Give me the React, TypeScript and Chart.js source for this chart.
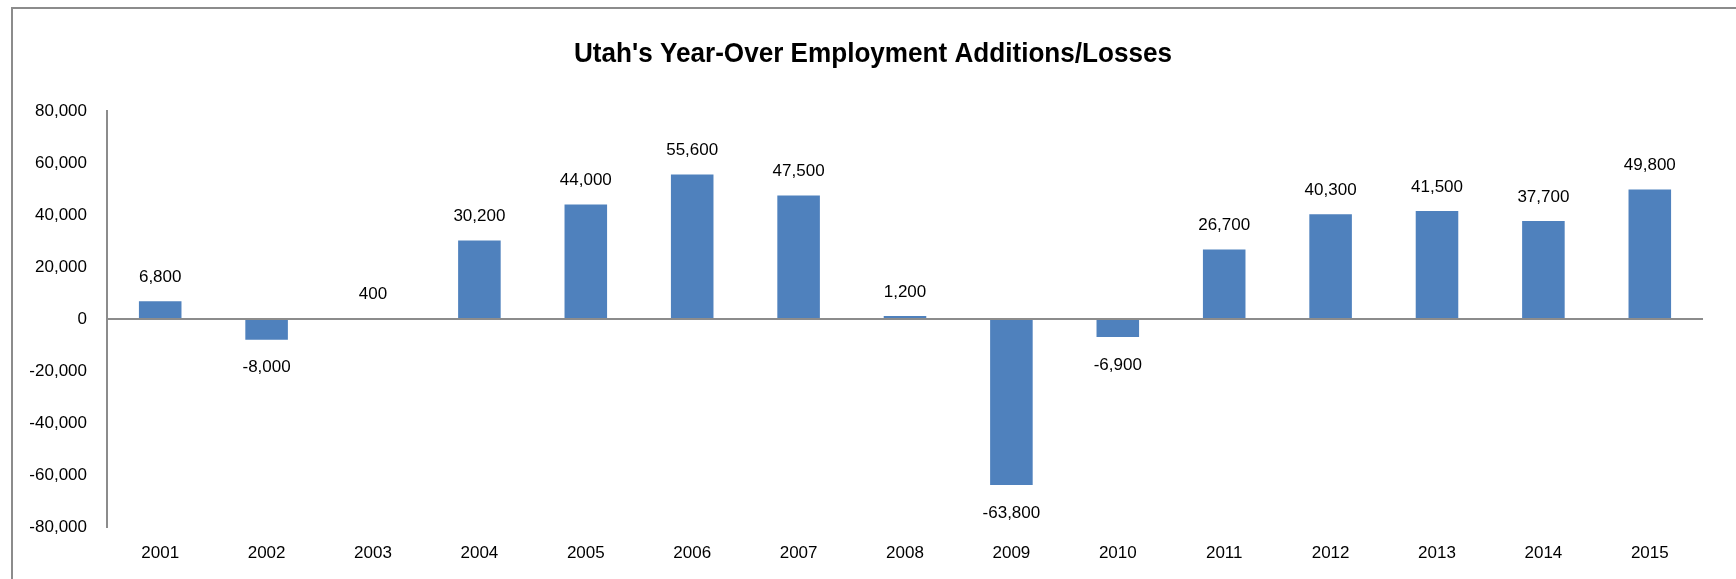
import React, { useEffect, useRef } from "react";
import { Chart, registerables } from "chart.js";

Chart.register(...registerables);

const years = ["2001", "2002", "2003", "2004", "2005", "2006", "2007", "2008", "2009", "2010", "2011", "2012", "2013", "2014", "2015"];
const employmentChange = [6800, -8000, 400, 30200, 44000, 55600, 47500, 1200, -63800, -6900, 26700, 40300, 41500, 37700, 49800];
const yMin = -80000;
const yMax = 80000;
const yStep = 20000;
const chartTitle = "Utah's Year-Over Employment Additions/Losses";

const FONT = "'Liberation Sans', Arial, sans-serif";

const fmt = (v: number) => v.toLocaleString("en-US");

const valueLabels = {
  id: "valueLabels",
  afterDatasetsDraw(chart: any) {
    const ctx = chart.ctx;
    const meta = chart.getDatasetMeta(0);
    const data = chart.data.datasets[0].data as number[];
    ctx.save();
    ctx.font = `17px ${FONT}`;
    ctx.fillStyle = "#000";
    ctx.textAlign = "center";
    ctx.textBaseline = "middle";
    meta.data.forEach((bar: any, i: number) => {
      const v = data[i];
      const y = v >= 0 ? bar.y - 24 : bar.y + 28;
      ctx.fillText(fmt(v), bar.x, y);
    });
    ctx.restore();
  },
};

// Title drawn slightly condensed, like the narrow bold face of the original
const narrowTitle = {
  id: "narrowTitle",
  afterDraw(chart: any) {
    const ctx = chart.ctx;
    ctx.save();
    ctx.font = `bold 28px ${FONT}`;
    ctx.fillStyle = "#000";
    ctx.textAlign = "center";
    ctx.textBaseline = "middle";
    const w = ctx.measureText(chartTitle).width;
    const sx = Math.min(1, 598 / w);
    ctx.translate(873, 54);
    ctx.scale(sx, 1);
    ctx.fillText(chartTitle, 0, 0);
    ctx.restore();
  },
};

export default function App() {
  const ref = useRef<HTMLCanvasElement | null>(null);
  useEffect(() => {
    if (!ref.current) return;
    const chart = new Chart(ref.current, {
      type: "bar",
      data: {
        labels: years,
        datasets: [
          {
            data: employmentChange,
            backgroundColor: "#4F81BD",
            borderWidth: 0,
            barPercentage: 0.4,
            categoryPercentage: 1,
          },
        ],
      },
      options: {
        responsive: false,
        animation: false,
        layout: { padding: { top: 111, left: 0, right: 33, bottom: 12 } },
        plugins: {
          legend: { display: false },
          tooltip: { enabled: false },
          title: { display: false },
        },
        scales: {
          x: {
            grid: { display: false, drawTicks: false },
            border: { display: false },
            ticks: { color: "#000", font: { family: FONT, size: 17 }, padding: 16, maxRotation: 0 },
            afterFit(scale: any) {
              scale.height = 40;
            },
          },
          y: {
            min: yMin,
            max: yMax,
            border: { display: true, color: "#8c8c8c", width: 2 },
            grid: {
              drawTicks: false,
              color: (c: any) => (c.tick && c.tick.value === 0 ? "#8c8c8c" : "rgba(0,0,0,0)"),
              lineWidth: 2,
            },
            ticks: {
              stepSize: yStep,
              color: "#000",
              font: { family: FONT, size: 17 },
              padding: 20,
              callback: (v: any) => fmt(Number(v)),
            },
            afterFit(scale: any) {
              scale.width = 107;
            },
          },
        },
      },
      plugins: [valueLabels, narrowTitle],
    });
    return () => chart.destroy();
  }, []);

  return (
    <div style={{ position: "fixed", left: 0, top: 0, width: 1736, height: 579, background: "#fff", overflow: "hidden" }}>
      <div
        style={{
          position: "absolute",
          left: 11,
          top: 7,
          width: 1736,
          height: 700,
          borderLeft: "2px solid #8c8c8c",
          borderTop: "2px solid #8c8c8c",
        }}
      />
      <canvas ref={ref} width={1736} height={579} style={{ position: "absolute", left: 0, top: 0 }} />
    </div>
  );
}
